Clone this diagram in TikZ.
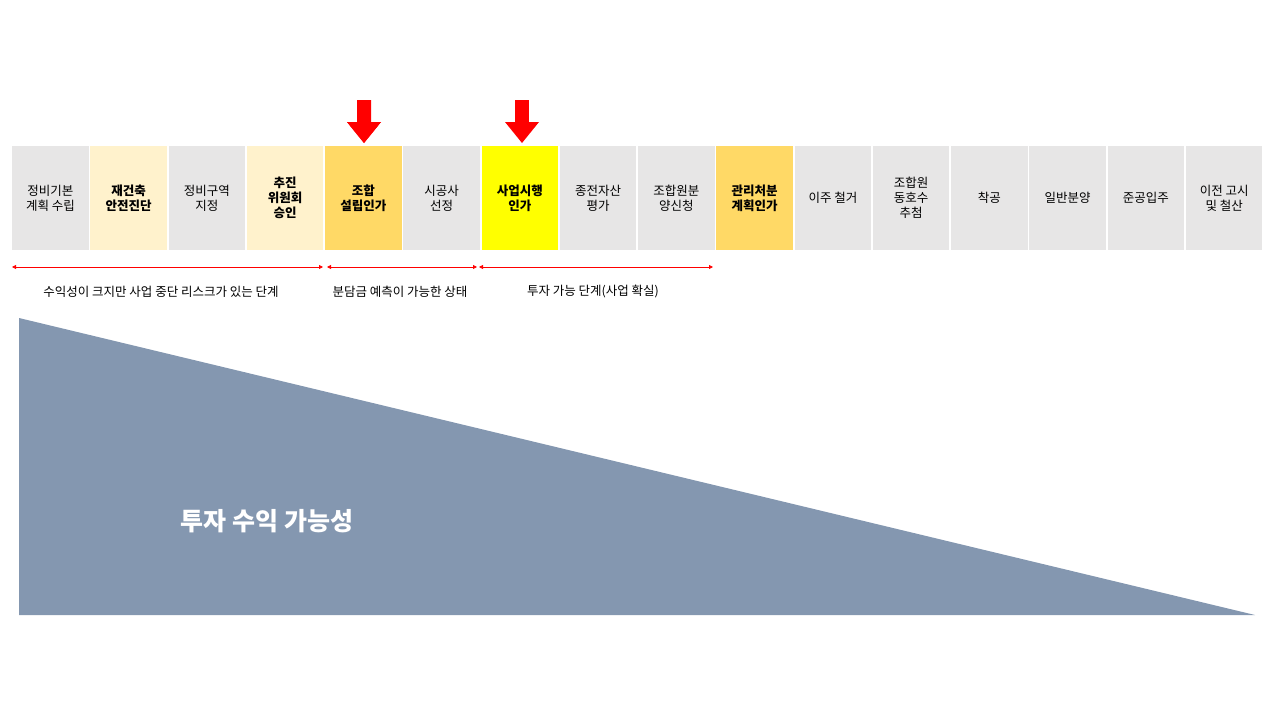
\documentclass[tikz,border=0pt]{standalone}
\usepackage{fontspec}
\setmainfont{Noto Sans CJK KR}
\usetikzlibrary{arrows.meta}
\definecolor{gr}{HTML}{E7E6E6}
\definecolor{ly}{HTML}{FFF2CC}
\definecolor{gd}{HTML}{FFD966}
\definecolor{yl}{HTML}{FFFF00}
\definecolor{tri}{HTML}{8497B0}
\begin{document}
\begin{tikzpicture}[x=1pt,y=-1pt,
  stage/.style={minimum width=76.5pt,minimum height=104pt,inner sep=0pt,align=center,font=\fontsize{12.5}{15}\selectfont,anchor=north west},
  rng/.style={red,line width=0.8pt,{Triangle[length=4pt,width=4pt]}-{Triangle[length=4pt,width=4pt]}},
  lbl/.style={font=\fontsize{12.5}{15}\selectfont}]
\useasboundingbox (0,0) rectangle (1280,720);
\def\W{78.25}
\foreach \i/\c/\t in {0/gr/{정비기본\\계획 수립},1/ly/{\textbf{재건축}\\\textbf{안전진단}},2/gr/{정비구역\\지정},3/ly/{\textbf{추진}\\\textbf{위원회}\\\textbf{승인}},4/gd/{\textbf{조합}\\\textbf{설립인가}},5/gr/{시공사\\선정},6/yl/{\textbf{사업시행}\\\textbf{인가}},7/gr/{종전자산\\평가},8/gr/{조합원분\\양신청},9/gd/{\textbf{관리처분}\\\textbf{계획인가}},10/gr/{이주 철거},11/gr/{조합원\\동호수\\추첨},12/gr/{착공},13/gr/{일반분양},14/gr/{준공입주},15/gr/{이전 고시\\및 철산}}
  \node[stage,fill=\c] (s\i) at ({12+\i*\W},146) {\t};
\coordinate (a0) at (12,267); \coordinate (a1) at (323,267);
\coordinate (a2) at (327,267); \coordinate (a3) at (477,267);
\coordinate (a4) at (479,267); \coordinate (a5) at (713,267);
\draw[rng] (a0) -- (a1);
\draw[rng] (a2) -- (a3);
\draw[rng] (a4) -- (a5);
\node[lbl] (l1) at (161,292) {수익성이 크지만 사업 중단 리스크가 있는 단계};
\node[lbl] (l2) at (400,292) {분담금 예측이 가능한 상태};
\node[lbl] (l3) at (593,292) {투자 가능 단계(사업 확실)};
\fill[red] (357,100) rectangle (371,122) -- (347,122) -- (364,143) -- (381,122) -- cycle;
\fill[red] (357,100) rectangle (371,123);
\fill[red] (347,122) -- (364,143) -- (381,122) -- cycle;
\fill[red] (515,100) rectangle (529,123);
\fill[red] (505,122) -- (522,143) -- (539,122) -- cycle;
\fill[tri] (19,318) -- (19,615) -- (1255,615) -- cycle;
\node[white,font=\bfseries\fontsize{25}{30}\selectfont] (t) at (267,521) {투자 수익 가능성};
\end{tikzpicture}
\end{document}
